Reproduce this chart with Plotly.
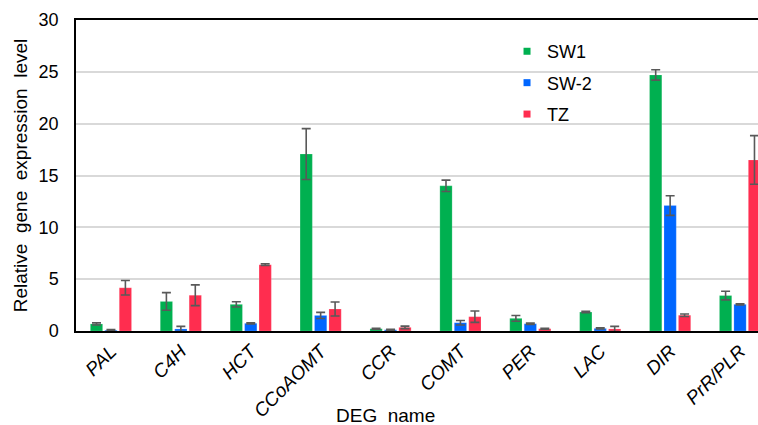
import plotly.graph_objects as go

categories = ["PAL", "C4H", "HCT", "CCoAOMT", "CCR", "COMT", "PER", "LAC", "DIR", "PrR/PLR"]
sw1 = [0.68, 2.85, 2.57, 17.07, 0.22, 14.0, 1.22, 1.83, 24.7, 3.42]
sw1_err = [0.1, 0.85, 0.25, 2.45, 0.05, 0.55, 0.28, 0.06, 0.5, 0.42]
sw2 = [0.08, 0.2, 0.74, 1.5, 0.12, 0.8, 0.7, 0.25, 12.1, 2.57]
sw2_err = [0.05, 0.25, 0.05, 0.3, 0.05, 0.22, 0.06, 0.05, 0.95, 0.06]
tz = [4.17, 3.45, 6.4, 2.12, 0.35, 1.38, 0.22, 0.2, 1.52, 16.5]
tz_err = [0.7, 1.0, 0.08, 0.68, 0.12, 0.55, 0.05, 0.25, 0.12, 2.35]

series = [
    ("SW1", sw1, sw1_err, "#00b050"),
    ("SW-2", sw2, sw2_err, "#0066ff"),
    ("TZ", tz, tz_err, "#ff2d4f"),
]

font = "Liberation Sans, Arial, sans-serif"
fig = go.Figure()
for name, vals, errs, col in series:
    fig.add_trace(go.Bar(
        x=list(range(len(categories))), y=vals, name=name,
        marker=dict(color=col, line=dict(color="rgba(255,255,255,0.35)", width=0.5)),
        error_y=dict(type="data", array=errs, visible=True, color="#595959", thickness=1.6, width=4.5),
        showlegend=False,
    ))
# legend entries with small square symbols
for name, vals, errs, col in series:
    fig.add_trace(go.Scatter(
        x=[None], y=[None], mode="markers", name=name,
        marker=dict(symbol="square", size=7, color=col),
        legendgroup=name,
    ))

fig.update_layout(
    width=758, height=425,
    margin=dict(l=76, r=0, t=20, b=94),
    paper_bgcolor="white", plot_bgcolor="white",
    barmode="group", bargap=0.38, bargroupgap=0.15,
    font=dict(family=font, size=18, color="#000000"),
    showlegend=True,
    legend=dict(x=0.632, y=0.958, xanchor="left", yanchor="top",
                bgcolor="rgba(0,0,0,0)", font=dict(size=18), tracegroupgap=5,
                itemwidth=30),
    xaxis=dict(
        tickmode="array", tickvals=list(range(len(categories))),
        ticktext=["<i>%s</i>" % c for c in categories],
        tickangle=-45, range=[-0.5, 9.257],
        showline=True, linecolor="#000000", linewidth=1.5, mirror=True,
        ticks="", showgrid=False, tickfont=dict(size=19),
    ),
    yaxis=dict(
        range=[0, 30], tickvals=[0, 5, 10, 15, 20, 25, 30],
        showgrid=True, gridcolor="#d9d9d9", gridwidth=1.5,
        showline=True, linecolor="#000000", linewidth=1.5,
        ticks="", tickfont=dict(size=18), zeroline=False,
        ticklabelstandoff=12,
        title=dict(text="Relative  gene  expression  level", font=dict(size=19), standoff=6),
    ),
    annotations=[dict(text="DEG  name", x=0, xref="paper", y=0, yref="paper",
                      showarrow=False, font=dict(size=19), yanchor="middle")],
)
fig.layout.annotations[0].x = (385 - 76) / (758 - 76)
fig.layout.annotations[0].y = -(415 - 331) / (331 - 20)

fig.write_html("out.html")
